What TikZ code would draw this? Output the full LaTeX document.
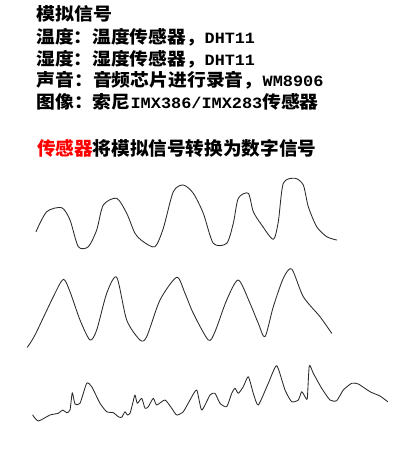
\documentclass[tikz,border=0pt]{standalone}
\usepackage{fontspec}
\usepackage{graphicx}
\newfontfamily\cjk{Noto Sans CJK SC}
\newfontfamily\lat{Liberation Mono}
\definecolor{wavec}{HTML}{2A2A2A}
\definecolor{hired}{HTML}{FF0000}
\newcommand{\W}[1]{{\cjk\bfseries\fontsize{17.5}{22}\selectfont #1}}
\newcommand{\Lt}[1]{{\lat\bfseries\fontsize{15.7}{22}\selectfont #1}}
\newcommand{\fitrow}[2]{\resizebox{#1}{\height}{#2}}
\tikzset{
  txt/.style={anchor=base west, inner sep=0pt, outer sep=0pt},
  wave/.style={draw=wavec, line width=0.85pt, line join=round, line cap=round}
}
\begin{document}
\begin{tikzpicture}[x=1pt,y=-1pt]
\useasboundingbox[fill=white] (0,0) rectangle (413,466);
\node[txt] (t1) at (36.5,20.4) {\fitrow{75.8pt}{\W{模拟信号}}};
\node[txt] (t2) at (36.5,43.7) {\fitrow{218.5pt}{\W{温度：温度传感器，}\Lt{DHT11}}};
\node[txt] (t3) at (36.5,65.4) {\fitrow{218.5pt}{\W{湿度：湿度传感器，}\Lt{DHT11}}};
\node[txt] (t4) at (36.5,86.7) {\fitrow{287pt}{\W{声音：音频芯片进行录音，}\Lt{WM8906}}};
\node[txt] (t5) at (36.5,108.7) {\fitrow{282.3pt}{\W{图像：索尼}\Lt{IMX386/IMX283}\W{传感器}}};
\node[txt] (t6) at (37,155.4) {\resizebox{279.3pt}{!}{\W{\textcolor{hired}{传感器}将模拟信号转换为数字信号}}};

\draw[wave] plot[smooth, tension=0.45] coordinates {
(36,231.7) (46.7,211.7) (61.7,207.7) (70,220) (78.3,246.7) (88.3,246.7)
(96.7,230) (103.3,205) (116.7,198.3) (126.7,213.3) (135,233.3) (143.3,241.7)
(155,246.7) (163.3,228.3) (173.3,191.7) (183.3,185) (193.3,193.3) (203.3,213.3)
(213.3,243.3) (226.7,243.3) (233.3,223.3) (238.3,198.3) (248.3,193.3) (253.3,211.7)
(261.7,225) (273.3,239.3) (278.3,221.7) (283.3,183.3) (295,178.3) (303.3,185)
(308.3,206.7) (316.7,226.7) (326.7,236.7) (336.7,240)};

\draw[wave] plot[smooth, tension=0.45] coordinates {
(27.3,347.3) (35,335) (53.3,296.7) (63.3,279.3) (70,291.7) (80,320) (90,340)
(96.7,330) (106.7,293.3) (116.7,277.3) (126.7,320) (140,340) (146.7,336.7)
(160,300) (176.7,277.3) (185,293.3) (193.3,313.3) (208.3,340) (215,331.7)
(226.7,300) (238.3,280) (250,303.3) (258.3,323.3) (265,336.7) (273.3,306.7)
(283.3,278.3) (291.7,269) (303.3,296.7) (320,316.7) (331.7,333.3)};

\draw[wave] plot[smooth, tension=0.35] coordinates {
(32.7,415) (38.3,421) (50,415) (58.3,413.3) (62.7,410) (66.7,412.7) (70,410)
(72.3,392.7) (75,404) (80,403.3) (86.7,383.3) (91.7,386.7) (100,403.3)
(106.7,411.7) (113.3,412.7) (118.3,416.7) (121.7,417.3) (125,411.7) (127.3,415)
(130,413.3) (132.7,403.3) (135,395) (137.3,403.3) (141.7,398.3) (145,408.3)
(148.3,406.7) (153.3,398.3) (156.7,405) (165,400) (171.7,408.3) (176.7,415)
(183.3,411.7) (190,400) (196.7,390) (201.7,410) (210,395) (215,393.3)
(220,403.3) (226.7,406.7) (231.7,393.3) (235,388.3) (238.3,393.3) (243.3,386.7)
(248.3,376.7) (253.3,393.3) (258.3,405) (268.3,383.3) (276.7,365.7) (285,390)
(291.7,401.7) (298.3,400) (301.7,391.7) (305,396.7) (307.3,398.3) (309.3,365.7)
(313.3,373.3) (321.7,388.3) (330,400) (336.7,400.7) (343.3,390) (351.7,383.3)
(358.3,384) (370,391.7) (380,396) (387.7,401.7)};
\end{tikzpicture}
\end{document}
